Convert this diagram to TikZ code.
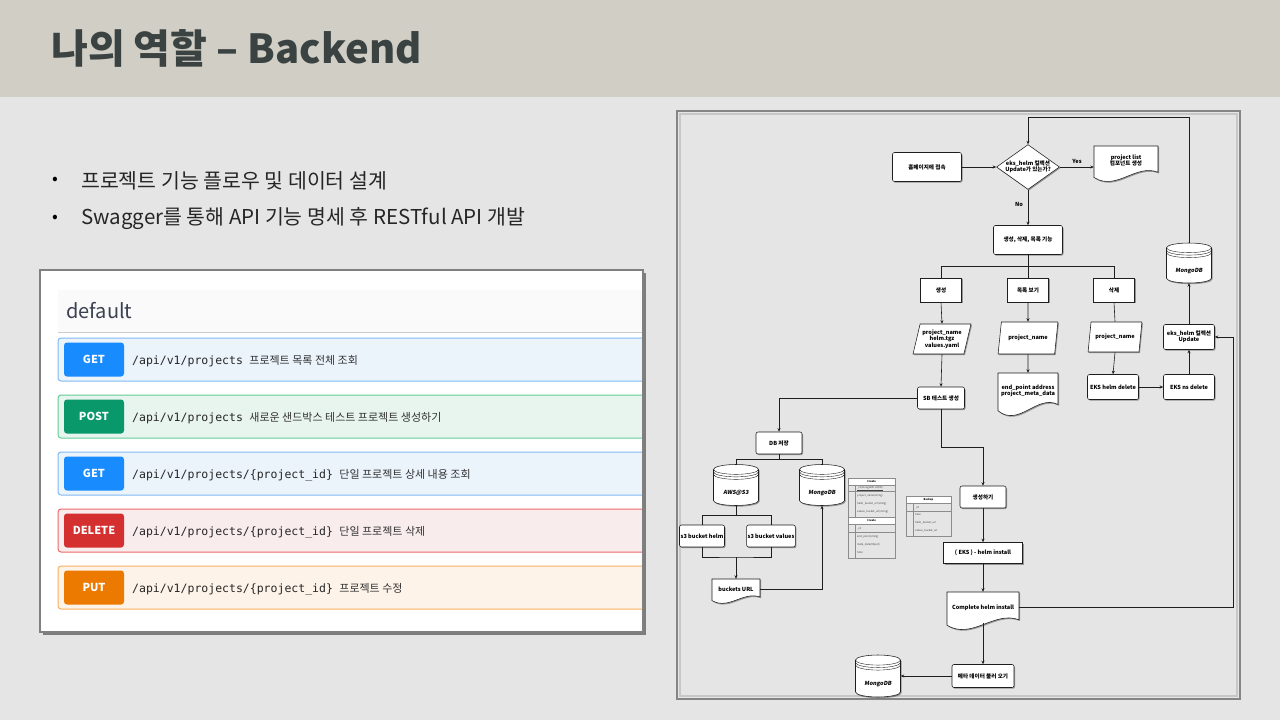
\documentclass[tikz,border=0pt]{standalone}
\usepackage{fontspec}
\setmainfont{Noto Sans CJK KR}
\newfontfamily\apimono{DejaVu Sans Mono}
\newfontfamily\dbfont[FakeSlant=0.15]{Noto Sans CJK KR}
\usetikzlibrary{shapes.geometric,arrows.meta,shadows}

\definecolor{getblue}{RGB}{24,140,255}
\definecolor{getbg}{RGB}{235,243,251}
\definecolor{getline}{RGB}{128,186,245}
\definecolor{postgreen}{RGB}{8,152,106}
\definecolor{postbg}{RGB}{232,244,238}
\definecolor{postline}{RGB}{98,206,150}
\definecolor{delred}{RGB}{212,48,48}
\definecolor{delbg}{RGB}{249,236,236}
\definecolor{delline}{RGB}{238,104,104}
\definecolor{putorange}{RGB}{236,122,0}
\definecolor{putbg}{RGB}{253,243,233}
\definecolor{putline}{RGB}{247,176,96}
\definecolor{flowline}{RGB}{30,30,30}

\newcommand{\flowfont}{\fontsize{5.6}{6.4}\selectfont\bfseries}
\newcommand{\tablefont}{\fontsize{2.6}{3}\selectfont}

% document shape: name, left, top, right, bottom, text
\newcommand{\docnode}[6]{%
  \draw[docshape] (#2,#3) -- (#4,#3) -- (#4,{#5-0.25*(#5-#3)})
    .. controls ({#4-0.35*(#4-#2)},{#5-0.5*(#5-#3)}) and ({#2+0.35*(#4-#2)},{#5+0.3*(#5-#3)}) .. (#2,{#5-0.1*(#5-#3)}) -- cycle;
  \node[doctext, minimum width={#4-#2}, minimum height={0.84*(#5-#3)}] (#1) at ({(#2+#4)/2},{#3+0.42*(#5-#3)}) {#6};
}
% database shape: name, cx, cy, w, h, text
\newcommand{\dbnode}[6]{%
  \draw[docshape] ({#2-#4/2},{#3-#5/2+0.12*#5}) -- ({#2-#4/2},{#3+#5/2-0.12*#5})
    arc[start angle=180, end angle=0, x radius={#4/2}, y radius={0.12*#5}]
    -- ({#2+#4/2},{#3-#5/2+0.12*#5})
    arc[start angle=0, end angle=-180, x radius={#4/2}, y radius={0.12*#5}] -- cycle;
  \foreach \k in {0,2.5,5}
    \draw[dbrim] ({#2-#4/2},{#3-#5/2+0.12*#5+\k}) arc[start angle=180, end angle=0, x radius={#4/2}, y radius={0.12*#5}];
  \node[dbbox, minimum width=#4, minimum height=#5] (#1) at (#2,#3) {};
  \node[dbtext] (#1-text) at (#2,{#3+0.2*#5}) {#6};
}
% swagger row: name, top, method, badge, background, border, path, text
\newcommand{\apirow}[8]{%
  \draw[fill=#5, draw=#6, line width=1pt, rounded corners=3pt] (58,#2) rectangle (660,{#2+43});
  \node[badge, fill=#4] (#1) at (94,{#2+21.5}) {#3};
  \node[apipath] (#1-path) at (132,{#2+26}) {#7};
  \node[apidesc] (#1-desc) at (#1-path.base east) {#8};
}

\begin{document}
\begin{tikzpicture}[x=1pt,y=1pt,yscale=-1,xscale=1,
  flowshadow/.style={drop shadow={shadow xshift=1pt,shadow yshift=-1.2pt,opacity=0.35,fill=black}},
  box/.style={draw=flowline, line width=0.55pt, fill=white, rounded corners=2pt, align=center, font=\flowfont, inner sep=1pt, flowshadow},
  sqbox/.style={box, rounded corners=0pt},
  decision/.style={diamond, aspect=1.4, draw=flowline, line width=0.55pt, fill=white, align=center, font=\flowfont, inner sep=0pt, flowshadow},
  io/.style={trapezium, trapezium left angle=72, trapezium right angle=108, trapezium stretches=true, draw=flowline, line width=0.55pt, fill=white, align=center, font=\flowfont, inner sep=1pt, flowshadow},
  docshape/.style={draw=flowline, line width=0.55pt, fill=white, flowshadow},
  doctext/.style={inner sep=0pt, align=center, font=\flowfont},
  dbrim/.style={draw=flowline, line width=0.4pt},
  dbbox/.style={inner sep=0pt},
  dbtext/.style={font=\dbfont\fontsize{5.6}{6}\selectfont\bfseries, inner sep=0pt},
  arrow/.style={draw=flowline, line width=0.6pt, -{Stealth[length=3.5pt,width=3pt]}},
  wire/.style={draw=flowline, line width=0.6pt},
  flowlbl/.style={font=\flowfont, inner sep=0pt},
  tablehead/.style={draw=black!45, line width=0.3pt, fill=white, font=\tablefont\bfseries, inner sep=0pt, drop shadow={shadow xshift=0.6pt,shadow yshift=-0.6pt,opacity=0.3}},
  tablecell/.style={anchor=west, font=\tablefont, inner sep=0pt, text=black!75},
  tableline/.style={draw=black!45, line width=0.3pt},
  badge/.style={rounded corners=3pt, minimum width=60, minimum height=34, text=white, font=\fontsize{11}{12}\selectfont\bfseries, inner sep=0pt},
  apipath/.style={anchor=base west, inner sep=0pt, font=\apimono\fontsize{11.5}{13}\selectfont, text=black!85},
  apidesc/.style={anchor=base west, inner ysep=0pt, inner xsep=6pt, font=\fontsize{11}{12}\selectfont, text=black!80}
]
\useasboundingbox (0,0) rectangle (1280,720);

%Shape: Rectangle (slide)
\fill[fill={rgb, 255:red, 229; green, 229; blue, 229 }] (0,0) rectangle (1280,720);
%Shape: Rectangle (title band)
\fill[fill={rgb, 255:red, 209; green, 206; blue, 198 }] (0,0) rectangle (1280,97);
%Text title
\node[anchor=base west, inner sep=0pt, font=\fontsize{40}{40}\selectfont\bfseries, text={rgb, 255:red, 58; green, 66; blue, 66 }] (title) at (51,63) {나의 역할 – Backend};

%Text bullets
\node[inner sep=0pt, font=\fontsize{17}{17}\selectfont] (dot1) at (55,181) {•};
\node[anchor=west, inner sep=0pt, font=\fontsize{20.5}{20.5}\selectfont, text=black!85] (item1) at (81,181) {프로젝트 기능 플로우 및 데이터 설계};
\node[inner sep=0pt, font=\fontsize{17}{17}\selectfont] (dot2) at (55,219) {•};
\node[anchor=west, inner sep=0pt, font=\fontsize{20.5}{20.5}\selectfont, text=black!85] (item2) at (81,219) {Swagger를 통해 API 기능 명세 후 RESTful API 개발};

%Shape: Rectangle (swagger panel)
\fill[white, drop shadow={shadow xshift=2.5pt,shadow yshift=-2.5pt,opacity=0.45,fill=black}] (40,270) rectangle (643,632);
\fill[fill={rgb, 255:red, 250; green, 250; blue, 250 }] (58,290) rectangle (643,332);
\node[anchor=west, inner sep=0pt, font=\fontsize{20}{22}\selectfont, text={rgb, 255:red, 59; green, 65; blue, 81 }] (default) at (66,311) {default};
\draw[draw=black!20, line width=0.8pt] (58,332) -- (643,332);
\begin{scope}
\clip (40,270) rectangle (643,632);
\apirow{get1}{338}{GET}{getblue}{getbg}{getline}{/api/v1/projects}{프로젝트 목록 전체 조회}
\apirow{post1}{395}{POST}{postgreen}{postbg}{postline}{/api/v1/projects}{새로운 샌드박스 테스트 프로젝트 생성하기}
\apirow{get2}{452}{GET}{getblue}{getbg}{getline}{/api/v1/projects/\{project\_id\}}{단일 프로젝트 상세 내용 조회}
\apirow{del1}{509}{DELETE}{delred}{delbg}{delline}{/api/v1/projects/\{project\_id\}}{단일 프로젝트 삭제}
\apirow{put1}{566}{PUT}{putorange}{putbg}{putline}{/api/v1/projects/\{project\_id\}}{프로젝트 수정}
\end{scope}
\draw[draw=black!50, line width=1.5pt] (40,270) rectangle (643,632);

%Shape: Rectangle (flow frame)
\draw[draw=black!22, line width=2pt] (680,114) rectangle (1237,696);
\draw[draw=black!48, line width=2pt] (677,111) rectangle (1240,699);

%Flow nodes
\node[box, minimum width=69, minimum height=29] (home) at (927,167) {홈페이지에 접속};
\node[decision, minimum width=63, minimum height=44] (cond) at (1028,167) {eks\_helm 컬렉션\\Update가 있는가?};
\docnode{plist}{1094}{146}{1158}{181}{project list\\컴포넌트 생성}
\node[flowlbl] (yes) at (1077,161) {Yes};
\node[flowlbl] (no) at (1019,204) {No};
\node[box, minimum width=69, minimum height=29] (func) at (1028,240) {생성, 삭제, 목록 기능};
\node[sqbox, minimum width=41, minimum height=24] (create) at (941,290) {생성};
\node[sqbox, minimum width=41, minimum height=24] (list) at (1028,290) {목록 보기};
\node[sqbox, minimum width=41, minimum height=24] (del) at (1114,290) {삭제};
\node[io, minimum width=58, minimum height=30] (in1) at (942,339) {project\_name\\helm.tgz\\values.yaml};
\node[io, minimum width=60, minimum height=32] (in2) at (1028,338) {project\_name};
\node[io, minimum width=54, minimum height=30] (in3) at (1115,337) {project\_name};
\docnode{meta}{998}{373}{1058}{415}{end\_point address\\project\_meta\_data}
\node[box, minimum width=51, minimum height=25] (ekshelm) at (1113,387) {EKS helm delete};
\node[box, minimum width=51, minimum height=25] (eksns) at (1189,387) {EKS ns delete};
\node[box, minimum width=51, minimum height=25] (upd) at (1189,337) {eks\_helm 컬렉션\\Update};
\dbnode{mongo1}{1189}{263}{45}{40}{MongoDB}
\node[box, minimum width=47, minimum height=22] (sb) at (941,398) {SB 테스트 생성};
\node[box, minimum width=46, minimum height=22] (dbsave) at (779,443) {DB 저장};
\dbnode{aws}{736}{485}{45}{41}{AWS@S3}
\dbnode{mongo2}{822}{485}{45}{41}{MongoDB}
\node[box, minimum width=45, minimum height=22] (s3helm) at (702,536) {s3 bucket helm};
\node[box, minimum width=47, minimum height=22] (s3val) at (771,536) {s3 bucket values};
\docnode{burl}{712}{579}{760}{603}{buckets URL}
\node[box, minimum width=46, minimum height=22] (gen) at (983,497) {생성하기};
\node[sqbox, minimum width=79, minimum height=21] (helm) at (983,553) {( EKS ) - helm install};
\docnode{comp}{947}{592}{1019}{629}{Complete helm install}
\node[box, minimum width=62, minimum height=23] (meta2) at (983,676) {메타 데이터 불러 오기};
\dbnode{mongo3}{878}{676}{45}{42}{MongoDB}

%Bend points
\coordinate (looptop) at (1028,117);
\coordinate (br1) at (1028,266);
\coordinate (br2) at (779,459);
\coordinate (br3) at (736,515);
\coordinate (join) at (736,557);
\coordinate (bend) at (983,447);
\coordinate (rt) at (1233,337);

%Straight Lines
\draw[arrow] (home.east) -- (cond.west);
\draw[arrow] (cond.east) -- (cond.east -| plist.west);
\draw[arrow] (cond.south) -- (func.north);
\draw[wire] (func.south) -- (br1);
\draw[wire] (br1) -| (create.north);
\draw[wire] (br1) -- (list.north);
\draw[wire] (br1) -| (del.north);
\draw[arrow] (create.south) -- (in1.north);
\draw[arrow] (list.south) -- (in2.north);
\draw[wire] (del.south) -- (in3.north);
\draw[arrow] (in1.south) -- (sb.north);
\draw[arrow] (in2.south) -- (meta.north);
\draw[arrow] (in3.south) -- (ekshelm.north);
\draw[arrow] (ekshelm.east) -- (eksns.west);
\draw[arrow] (eksns.north) -- (upd.south);
\draw[arrow] (upd.north) -- (mongo1.south);
\draw[arrow] (mongo1.north) |- (looptop) -- (cond.north);
\draw[arrow] (sb.west) -| (dbsave.north);
\draw[wire] (dbsave.south) -- (br2);
\draw[wire] (br2) -| (aws.north);
\draw[wire] (br2) -| (mongo2.north);
\draw[wire] (aws.south) -- (br3);
\draw[wire] (br3) -| (s3helm.north);
\draw[wire] (br3) -| (s3val.north);
\draw[wire] (s3helm.south) |- (join) -| (s3val.south);
\draw[arrow] (join) -- (burl.north);
\draw[arrow] (burl.east) -| (mongo2.south);
\draw[arrow] (sb.south) |- (bend) -- (gen.north);
\draw[arrow] (gen.south) -- (helm.north);
\draw[arrow] (helm.south) -- (comp.north);
\draw[arrow] (comp.east) -| (rt) -- (upd.east);
\draw[arrow] (comp.south) -- (meta2.north);
\draw[arrow] (meta2.west) -- (mongo3.east);

%Shape: Table (Create)
\draw[tableline] (848,478) rectangle (895,558);
\draw[tableline] (855,485) -- (855,517.5) (855,524.5) -- (855,558);
\draw[tableline] (848,491.5) -- (895,491.5) (848,532.5) -- (895,532.5);
\node[tablehead, minimum width=47, minimum height=7] (create1) at (871.5,481.5) {Create};
\node[tablecell] (c1a) at (857,488.5) {\underline{\_id(mongoDB 고유ID)}};
\node[tablecell] (c1b) at (857,496) {project\_name(string)};
\node[tablecell] (c1c) at (857,504) {helm\_bucket\_url(string)};
\node[tablecell] (c1d) at (857,512) {values\_bucket\_url(string)};
\node[tablehead, minimum width=47, minimum height=7] (create2) at (871.5,521) {Create};
\node[tablecell] (c2a) at (857,529) {\_id};
\node[tablecell] (c2b) at (857,537) {end\_point(string)};
\node[tablecell] (c2c) at (857,545) {meta\_data(Object)};
\node[tablecell] (c2d) at (857,553) {time};

%Shape: Table (Backup)
\draw[tableline] (906,496) rectangle (951,536);
\draw[tableline] (913,503) -- (913,536) (906,511) -- (951,511);
\node[tablehead, minimum width=45, minimum height=7] (backup) at (928.5,499.5) {Backup};
\node[tablecell] (b1) at (915,507.5) {\_id};
\node[tablecell] (b2) at (915,515) {time};
\node[tablecell] (b3) at (915,523) {helm\_bucket\_url};
\node[tablecell] (b4) at (915,530.5) {values\_bucket\_url};

\end{tikzpicture}
\end{document}
